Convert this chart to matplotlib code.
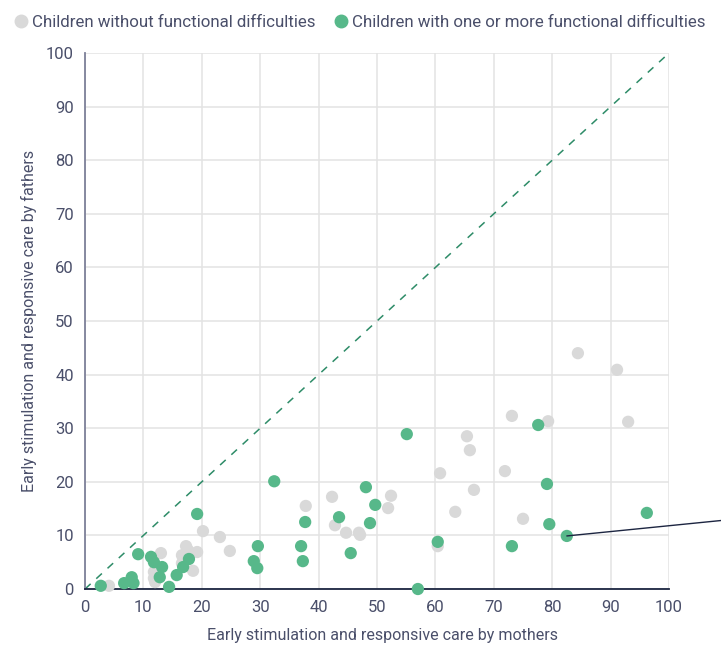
import matplotlib
matplotlib.use("Agg")
import matplotlib.pyplot as plt
from matplotlib.lines import Line2D

plt.rcParams['font.family'] = ['Roboto', 'DejaVu Sans']

# children without functional difficulties (grey)
no_diff_x = [4.1, 13.0, 11.8, 11.8, 12.0, 17.3, 16.6, 17.6, 19.2, 16.6, 18.5, 20.2, 23.1, 24.8,
             37.8, 42.3, 52.4, 51.9, 42.8, 44.7, 46.9, 47.1,
             60.4, 63.4, 60.8, 65.4, 65.9, 66.6, 71.9, 73.1, 75.0, 79.3, 84.4, 91.1, 93.0]
no_diff_y = [0.6, 6.7, 3.2, 2.0, 1.3, 8.0, 6.3, 7.3, 6.9, 4.8, 3.4, 10.8, 9.7, 7.1,
             15.5, 17.2, 17.4, 15.1, 11.9, 10.5, 10.5, 10.1,
             8.0, 14.4, 21.6, 28.5, 25.9, 18.5, 22.0, 32.3, 13.1, 31.3, 44.0, 40.9, 31.2]

# children with one or more functional difficulties (green)
diff_x = [2.7, 6.7, 8.0, 8.3, 9.1, 11.3, 11.8, 13.2, 12.8, 14.4, 15.7, 16.8, 17.8, 19.2,
          28.9, 29.5, 29.6, 32.4, 37.0, 37.3, 37.7, 43.5, 45.5, 48.1, 48.8, 49.7,
          55.1, 57.0, 60.4, 73.1, 77.6, 79.1, 79.5, 82.5, 96.2]
diff_y = [0.6, 1.1, 2.2, 1.1, 6.5, 6.0, 5.0, 4.1, 2.2, 0.4, 2.6, 4.1, 5.6, 14.0,
          5.2, 3.9, 8.0, 20.1, 8.0, 5.2, 12.5, 13.4, 6.7, 19.0, 12.3, 15.7,
          28.9, 0.0, 8.8, 8.0, 30.6, 19.6, 12.1, 9.9, 14.2]

ticks = list(range(0, 101, 10))
grey = "#d9d9d9"
green = "#57b88a"
navy = "#1c2541"
txt = "#4a4f6a"

fig = plt.figure(figsize=(7.21, 6.45), dpi=100)
ax = fig.add_axes([0.1179, 0.0868, 0.81, 0.831])

ax.plot([0, 100], [0, 100], ls=(0, (5, 5)), color="#2e8c68", lw=1.1, zorder=2)
ax.scatter(no_diff_x, no_diff_y, s=78, color=grey, edgecolors="none", zorder=3, clip_on=False)
ax.scatter(diff_x, diff_y, s=78, color=green, edgecolors="none", zorder=4, clip_on=False)

# pointer line from the annotated point out past the right edge
ax.annotate("", xy=(82.5, 9.9), xycoords="data", xytext=(1.0, 0.193),
            textcoords="figure fraction",
            arrowprops=dict(arrowstyle="-", color=navy, lw=1.0, shrinkA=0, shrinkB=0),
            zorder=5, annotation_clip=False)

ax.set_xlim(0, 100)
ax.set_ylim(0, 100)
ax.set_xticks(ticks)
ax.set_yticks(ticks)
ax.grid(True, color="#e3e3e3", lw=1.1, zorder=0)
ax.set_axisbelow(True)
for s in ["top", "right"]:
    ax.spines[s].set_visible(False)
ax.spines["bottom"].set_color(navy)
ax.spines["bottom"].set_linewidth(1.3)
ax.spines["left"].set_color("#7d8099")
ax.spines["left"].set_linewidth(1.3)
ax.tick_params(length=0, labelsize=12, labelcolor=txt, pad=8)

ax.set_xlabel("Early stimulation and responsive care by mothers", fontsize=11.5, color=txt)
ax.set_ylabel("Early stimulation and responsive care by fathers", fontsize=11.5, color=txt)
ax.xaxis.set_label_coords(0.509, -0.072)
ax.yaxis.set_label_coords(-0.082, 0.5)

handles = [Line2D([], [], ls="none", marker="o", ms=9, color=grey, label="Children without functional difficulties"),
           Line2D([], [], ls="none", marker="o", ms=9, color=green, label="Children with one or more functional difficulties")]
leg = fig.legend(handles=handles, loc="upper left", bbox_to_anchor=(-0.006, 1.0), ncol=2, frameon=False,
                 fontsize=12.2, handletextpad=0.05, columnspacing=0.9, handlelength=1.2)
for t in leg.get_texts():
    t.set_color(txt)

fig.savefig("out.png", dpi=100)
